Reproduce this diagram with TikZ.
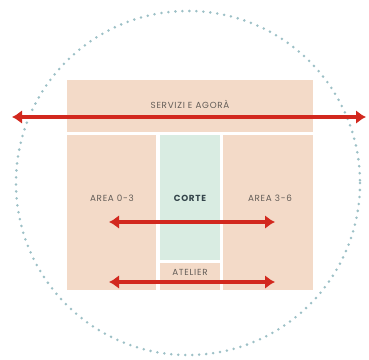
\documentclass[tikz,border=0pt]{standalone}
\usepackage{fontspec}
\setmainfont{Poppins}[LetterSpace=8]
\usetikzlibrary{arrows.meta}
\definecolor{salmon}{HTML}{F3DAC8}
\definecolor{mint}{HTML}{D9ECE2}
\definecolor{arrowred}{HTML}{D2281E}
\definecolor{dotcol}{HTML}{9CC0C6}
\definecolor{txtgray}{HTML}{625C57}
\definecolor{txtdark}{HTML}{34454B}
\tikzset{
  zone/.style={draw=none, inner sep=0pt, anchor=north west},
  lbl/.style={font=\fontsize{8.8}{9}\selectfont, text=txtgray, inner sep=0pt},
  dbl/.style={arrowred, line width=3.8pt, {Latex[length=10pt,width=14pt]}-{Latex[length=10pt,width=14pt]}}
}
\begin{document}
\begin{tikzpicture}[x=1pt,y=-1pt]
\useasboundingbox (0,0) rectangle (369,359);
\fill[white] (0,0) rectangle (369,359);
% dotted circle
\draw[dotcol, line width=2.8pt, dash pattern=on 0pt off 7pt, line cap=round] (188,183) circle [radius=172];
% zones
\node[zone, fill=salmon, minimum width=246pt, minimum height=52pt] (top) at (67,80) {};
\node[zone, fill=salmon, minimum width=89pt, minimum height=155pt] (left) at (67,135) {};
\node[zone, fill=mint, minimum width=60pt, minimum height=125pt] (corte) at (160,135) {};
\node[zone, fill=salmon, minimum width=60pt, minimum height=27pt] (atelier) at (160,263) {};
\node[zone, fill=salmon, minimum width=90pt, minimum height=155pt] (right) at (223,135) {};
% labels
\node[lbl] (tservizi) at (190,104) {SERVIZI E AGORÀ};
\node[lbl] (tarea1) at (112,198) {AREA 0-3};
\node[lbl, text=txtdark, font=\fontsize{8.8}{9}\selectfont\bfseries] (tcorte) at (190,198) {CORTE};
\node[lbl] (tarea2) at (270,198) {AREA 3-6};
\node[lbl] (tatelier) at (190,272) {ATELIER};
% arrow endpoints
\coordinate (a1) at (12,117);
\coordinate (b1) at (366,117);
\coordinate (a2) at (109,222);
\coordinate (b2) at (275,222);
\coordinate (a3) at (109,282);
\coordinate (b3) at (275,282);
\draw[dbl] (a1) -- (b1);
\draw[dbl] (a2) -- (b2);
\draw[dbl] (a3) -- (b3);
\end{tikzpicture}
\end{document}
